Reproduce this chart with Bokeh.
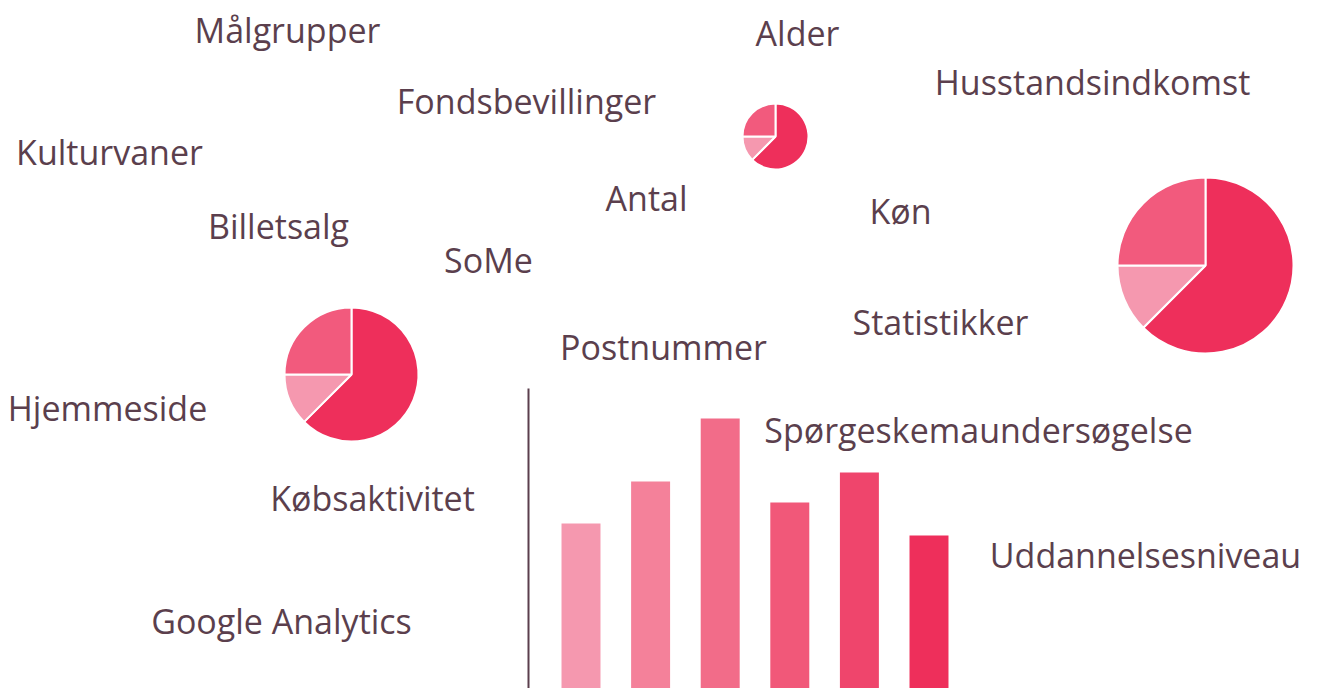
from bokeh.plotting import figure
from bokeh.models import Range1d
from bokeh.core.properties import value
from bokeh.embed import file_html
from bokeh.resources import INLINE
import math

# ---------------- data ----------------
words = ["Målgrupper", "Alder", "Husstandsindkomst", "Fondsbevillinger", "Kulturvaner",
         "Antal", "Køn", "Billetsalg", "SoMe", "Statistikker", "Postnummer",
         "Hjemmeside", "Spørgeskemaundersøgelse", "Købsaktivitet",
         "Uddannelsesniveau", "Google Analytics"]

pie_values = [62.5, 12.5, 25.0]          # main, small, medium share
pie_colors = ["#EE2F5B", "#F598AF", "#F25A7D"]

bar_values = [55, 69, 90, 62, 72, 51]
bar_colors = ["#F598AF", "#F4819A", "#F26C89", "#F15879", "#EF456C", "#EE2F5B"]
bar_axis_max = 100

# ---------------- layout (screen pixels) ----------------
W, H = 1322, 688
word_cx = [287, 797, 1092, 526, 109, 646, 900, 278, 488, 940, 663, 107, 978, 372, 1145, 281]
word_cy = [29, 32, 81, 100, 151, 197, 210, 225, 259, 321, 346, 407, 429, 497, 554, 620]
text_color = "#5B3F4D"

pie_layout = [(775, 136, 33), (1205, 265, 88), (351, 374, 67)]  # cx, cy, r

bar_px0, bar_step, bar_w = 580.5, 69.6, 0.56
bar_axis_px = 528
bar_unit_px = 3.0

def sy(y):  # screen y -> data y
    return H - y

p = figure(width=W, height=H, output_backend="svg", toolbar_location=None,
           x_range=Range1d(0, W), y_range=Range1d(0, H),
           min_border=0, min_border_left=0, min_border_right=0,
           min_border_top=0, min_border_bottom=0)
p.axis.visible = False
p.grid.visible = False
p.outline_line_color = None
p.background_fill_color = "white"
p.border_fill_color = "white"

# words
p.text(x=word_cx, y=[sy(v) for v in word_cy], text=words,
       text_font=value("Open Sans"), text_font_size="34px",
       text_color=text_color, text_align="center", text_baseline="middle")

# pies
total = sum(pie_values)
for cx, cy, r in pie_layout:
    cum = 0.0
    starts, ends = [], []
    for v in pie_values:
        starts.append(math.radians(90 - cum / total * 360))
        cum += v
        ends.append(math.radians(90 - cum / total * 360))
    p.wedge(x=cx, y=sy(cy), radius=r, start_angle=starts, end_angle=ends,
            direction="clock", fill_color=pie_colors, line_color="white", line_width=2)

# bars with their own scales
x_start = -bar_px0 / bar_step
x_end = (W - bar_px0) / bar_step
p.extra_x_ranges = {"bx": Range1d(x_start, x_end)}
p.extra_y_ranges = {"by": Range1d(0, H / bar_unit_px)}
idx = list(range(len(bar_values)))
p.vbar(x=idx, top=bar_values, bottom=0, width=bar_w, fill_color=bar_colors,
       line_color=None, x_range_name="bx", y_range_name="by")
ax = (bar_axis_px - bar_px0) / bar_step
p.segment(x0=[ax], y0=[0], x1=[ax], y1=[bar_axis_max], line_color=text_color,
          line_width=2, x_range_name="bx", y_range_name="by")

open("out.html", "w").write(file_html(p, INLINE))
